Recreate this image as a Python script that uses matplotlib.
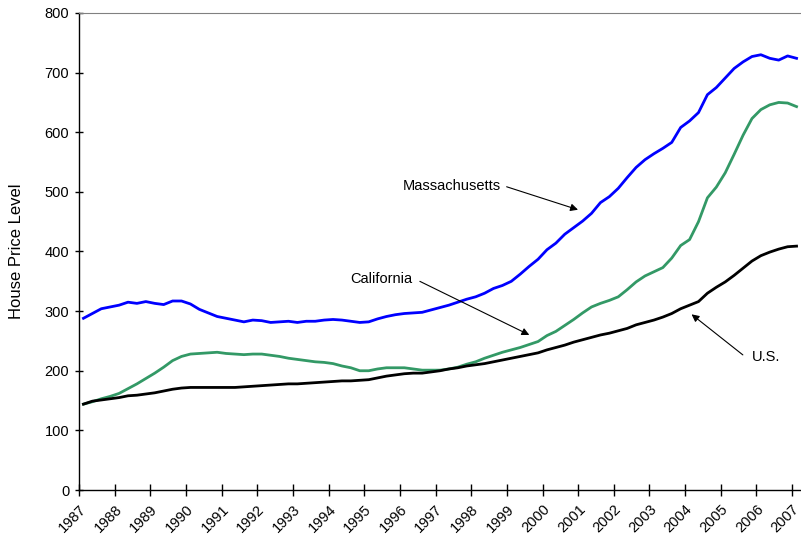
import numpy as np
import matplotlib
matplotlib.use("Agg")
import matplotlib.pyplot as plt

plt.rcParams['font.family'] = ['Liberation Sans', 'DejaVu Sans']

# quarterly index levels, 1987Q1 .. 2007Q1
start_year = 1987
massachusetts = [288, 296, 304, 307, 310, 315, 313, 316, 313, 311,
                 317, 317, 312, 303, 297, 291, 288, 285, 282, 285,
                 284, 281, 282, 283, 281, 283, 283, 285, 286, 285,
                 283, 281, 282, 287, 291, 294, 296, 297, 298, 302,
                 306, 310, 315, 320, 324, 330, 338, 343, 350, 362,
                 375, 387, 403, 414, 429, 440, 451, 464, 482, 492,
                 506, 524, 541, 554, 564, 573, 583, 608, 619, 633,
                 663, 675, 691, 707, 718, 727, 730, 724, 721, 728,
                 724]
california = [144, 148, 153, 157, 162, 170, 178, 187, 196, 206,
              217, 224, 228, 229, 230, 231, 229, 228, 227, 228,
              228, 226, 224, 221, 219, 217, 215, 214, 212, 208,
              205, 200, 200, 203, 205, 205, 205, 203, 201, 201,
              201, 203, 206, 211, 215, 221, 226, 231, 235, 239,
              244, 249, 259, 266, 276, 286, 297, 307, 313, 318,
              324, 336, 349, 359, 366, 373, 389, 410, 420, 450,
              490, 508, 532, 563, 595, 623, 638, 646, 650, 649,
              643]
us = [144, 149, 151, 153, 155, 158, 159, 161, 163, 166,
      169, 171, 172, 172, 172, 172, 172, 172, 173, 174,
      175, 176, 177, 178, 178, 179, 180, 181, 182, 183,
      183, 184, 185, 188, 191, 193, 195, 196, 196, 198,
      200, 203, 205, 208, 210, 212, 215, 218, 221, 224,
      227, 230, 235, 239, 243, 248, 252, 256, 260, 263,
      267, 271, 277, 281, 285, 290, 296, 304, 310, 316,
      330, 340, 349, 360, 372, 384, 393, 399, 404, 408,
      409]
year_labels = [str(y) for y in range(1987, 2008)]

x = start_year + 0.125 + 0.25 * np.arange(len(us))

fig = plt.figure(figsize=(8.01, 5.36), dpi=100)
ax = fig.add_axes([79 / 801, 46 / 536, 722 / 801, 477 / 536])

ax.plot(x, massachusetts, color='#0000FF', lw=2)
ax.plot(x, california, color='#339966', lw=2)
ax.plot(x, us, color='black', lw=2)

ax.set_xlim(1987, 2007.25)
ax.set_ylim(0, 800)
ax.set_yticks(range(0, 801, 100))
ax.set_xticks(range(1987, 2008))
ax.set_xticklabels(year_labels, rotation=45, ha='right', rotation_mode='anchor')
ax.tick_params(axis='x', direction='inout', length=9, width=1, labelsize=10.5, pad=4)
ax.tick_params(axis='y', direction='inout', length=6, width=1, labelsize=10.5, pad=4)
ax.set_ylabel('House Price Level', fontsize=12)
ax.yaxis.set_label_coords(-0.0762, 0.5)

ax.spines['right'].set_visible(False)
ax.spines['top'].set_color('#808080')
ax.spines['left'].set_linewidth(1)
ax.spines['bottom'].set_linewidth(1)

arrow = dict(arrowstyle='-|>', color='black', lw=0.8, mutation_scale=11)
ax.text(1996.09, 510, 'Massachusetts', fontsize=10.5, va='center', ha='left')
ax.annotate('', xy=(2001.07, 468.6), xytext=(1998.92, 510), arrowprops=arrow)
ax.text(1994.62, 354, 'California', fontsize=10.5, va='center', ha='left')
ax.annotate('', xy=(1999.70, 258), xytext=(1996.49, 352), arrowprops=arrow)
ax.text(2005.87, 223, 'U.S.', fontsize=10.5, va='center', ha='left')
ax.annotate('', xy=(2004.12, 297.5), xytext=(2005.68, 223.7), arrowprops=arrow)

fig.savefig('out.png', dpi=100)
